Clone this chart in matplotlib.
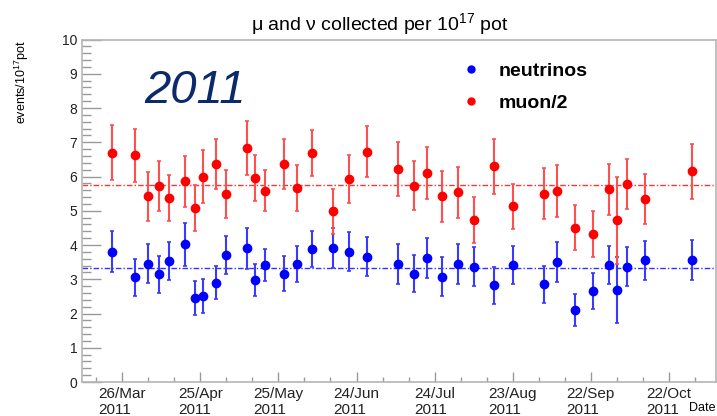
import numpy as np
import matplotlib
matplotlib.use("Agg")
import matplotlib.pyplot as plt
import matplotlib.dates as mdates
from matplotlib.lines import Line2D
import pandas as pd

plt.rcParams['font.family'] = ['Liberation Sans', 'DejaVu Sans']
plt.rcParams['mathtext.fontset'] = 'custom'
plt.rcParams['mathtext.rm'] = 'Liberation Sans'
plt.rcParams['mathtext.it'] = 'Liberation Sans:italic'

# data
dates = ['2011-03-22', '2011-03-31', '2011-04-05', '2011-04-09', '2011-04-13', '2011-04-19',
         '2011-04-23', '2011-04-26', '2011-05-01', '2011-05-05', '2011-05-13', '2011-05-16',
         '2011-05-20', '2011-05-27', '2011-06-01', '2011-06-07', '2011-06-15', '2011-06-21',
         '2011-06-28', '2011-07-10', '2011-07-16', '2011-07-21', '2011-07-27', '2011-08-02',
         '2011-08-08', '2011-08-16', '2011-08-23', '2011-09-04', '2011-09-09', '2011-09-16',
         '2011-09-23', '2011-09-29', '2011-10-02', '2011-10-06', '2011-10-13', '2011-10-31']
neutrinos = [3.81, 3.06, 3.45, 3.14, 3.54, 4.02, 2.46, 2.51, 2.90, 3.70, 3.90, 2.98,
             3.41, 3.16, 3.44, 3.88, 3.91, 3.81, 3.66, 3.44, 3.16, 3.62, 3.08, 3.44,
             3.37, 2.82, 3.42, 2.86, 3.50, 2.11, 2.66, 3.42, 2.69, 3.37, 3.55, 3.57]
nu_err = [0.60, 0.54, 0.57, 0.55, 0.55, 0.63, 0.49, 0.49, 0.49, 0.56, 0.61, 0.47,
          0.47, 0.51, 0.53, 0.53, 0.58, 0.57, 0.56, 0.58, 0.54, 0.59, 0.57, 0.58,
          0.57, 0.54, 0.56, 0.54, 0.59, 0.47, 0.53, 0.56, 0.97, 0.57, 0.58, 0.59]
muons = [6.69, 6.62, 5.42, 5.73, 5.37, 5.86, 5.08, 6.00, 6.37, 5.49, 6.83, 5.96,
         5.59, 6.37, 5.66, 6.69, 4.98, 5.93, 6.73, 6.22, 5.73, 6.10, 5.42, 5.54,
         4.72, 6.30, 5.13, 5.50, 5.59, 4.51, 4.31, 5.63, 4.72, 5.78, 5.34, 6.15]
mu_err = [0.80, 0.77, 0.72, 0.73, 0.67, 0.75, 0.68, 0.76, 0.74, 0.70, 0.79, 0.67,
          0.61, 0.73, 0.67, 0.68, 0.66, 0.71, 0.75, 0.78, 0.71, 0.76, 0.75, 0.74,
          0.67, 0.80, 0.66, 0.75, 0.76, 0.67, 0.67, 0.74, 1.28, 0.73, 0.72, 0.80]
nu_mean = 3.34
mu_mean = 5.76
tick_dates = ['2011-03-26', '2011-04-25', '2011-05-25', '2011-06-24',
              '2011-07-24', '2011-08-23', '2011-09-22', '2011-10-22']
x_start, x_end = '2011-03-10 14:00', '2011-11-09 05:00'

x = pd.to_datetime(dates)

fig = plt.figure(figsize=(7.17, 4.16), dpi=100)
ax = fig.add_axes([0.1148, 0.0817, 0.8838, 0.8233])

# mean lines
ax.axhline(mu_mean, color='red', lw=1.0, ls=(0, (4, 1.5, 1, 1.5)), alpha=0.8)
ax.axhline(nu_mean, color='blue', lw=1.0, ls=(0, (4, 1.5, 1, 1.5)), alpha=0.8)

ax.errorbar(x, neutrinos, yerr=nu_err, fmt='o', color='blue', ms=6, ecolor='#3a3aff',
            elinewidth=1.5, capsize=1.3, capthick=1.2)
ax.errorbar(x, muons, yerr=mu_err, fmt='o', color='red', ms=6, ecolor='#ff5050',
            elinewidth=1.5, capsize=1.3, capthick=1.2)

ax.set_ylim(0, 10)
ax.set_xlim(pd.Timestamp(x_start), pd.Timestamp(x_end))

# axes styling (ROOT look)
for s in ax.spines.values():
    s.set_color('#b5b5b5')
    s.set_linewidth(1.2)

ax.set_yticks(np.arange(0, 11, 1))
ax.set_yticks(np.arange(0, 10.01, 0.2), minor=True)
ax.tick_params(axis='y', which='major', direction='in', length=13.5, width=1,
               color='#999999', labelsize=10, pad=3.5, labelcolor='#222222')
ax.tick_params(axis='y', which='minor', direction='in', length=6.8, width=1, color='#999999')

ticks = pd.to_datetime(tick_dates)
ax.set_xticks(ticks)
minor = np.arange(mdates.date2num(ticks[0]) - 10, mdates.date2num(pd.Timestamp(x_end)), 10)
ax.set_xticks(minor, minor=True)
ax.xaxis.set_major_formatter(mdates.DateFormatter('%d/%b\n%Y'))
ax.tick_params(axis='x', which='major', direction='in', length=7.2, width=1,
               color='#999999', labelsize=11, pad=3.5, labelcolor='#222222')
ax.tick_params(axis='x', which='minor', direction='in', length=3.6, width=1, color='#999999')
for lab in ax.get_xticklabels():
    lab.set_multialignment('left')

fig.text(380 / 717, 0.942, r'μ and ν collected per 10$^{17}$ pot',
         ha='center', va='center', fontsize=14)
fig.text(22 / 717, (416 - 40) / 416, r'events/10$^{17}$pot', rotation=90,
         ha='center', va='top', fontsize=9)
fig.text(716 / 717, 2 / 416, 'Date', ha='right', va='bottom', fontsize=9)
fig.text(195 / 717, (416 - 91) / 416, '2011', fontsize=34, style='italic', color='#0b2a6b',
         ha='center', va='center')

handles = [Line2D([], [], marker='o', color='blue', ls='none', ms=5),
           Line2D([], [], marker='o', color='red', ls='none', ms=5)]
ax.legend(handles, ['neutrinos', 'muon/2'], loc='upper left',
          bbox_to_anchor=(461 / 717, (416 - 62) / 416), bbox_transform=fig.transFigure,
          frameon=False, prop={'size': 14, 'weight': 'bold'}, handlelength=1.0,
          handletextpad=0.95, labelspacing=0.75, borderpad=0, borderaxespad=0)

fig.savefig('out.png', dpi=100)
